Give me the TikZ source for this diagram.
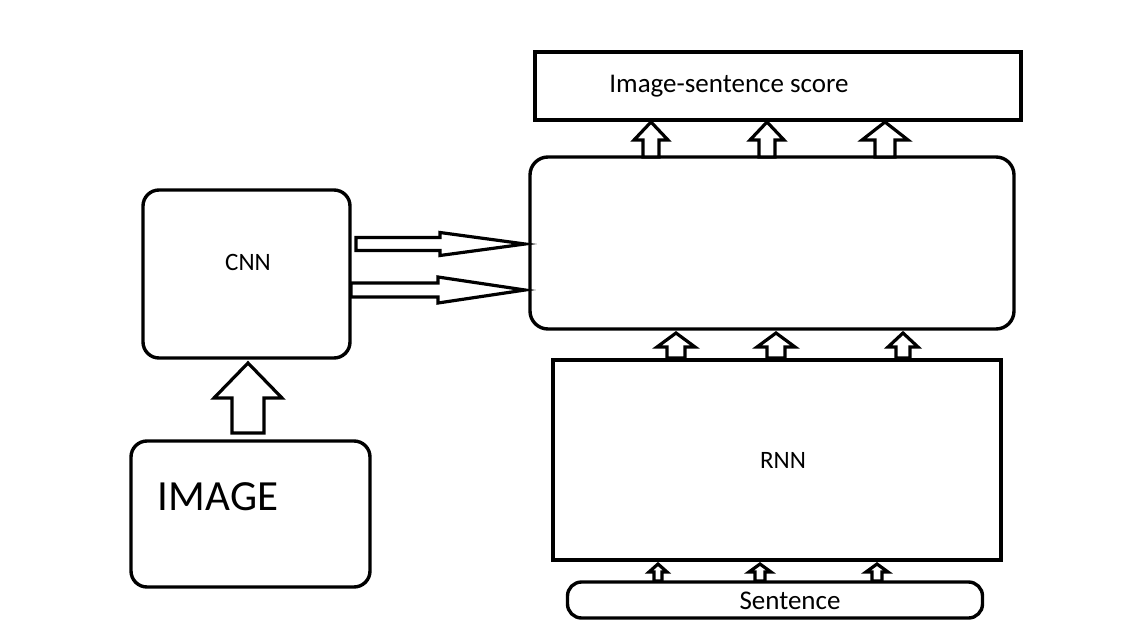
\documentclass[tikz,border=0pt]{standalone}
\usepackage{fontspec}
\setmainfont{Carlito}
\newcommand\blockup[6]{%
  \draw[blk] (#1-#6,#4) -- (#1-#6,#3) -- (#1-#5,#3) -- (#1,#2) -- (#1+#5,#3) -- (#1+#6,#3) -- (#1+#6,#4) -- cycle;}
\newcommand\blockright[6]{%
  \draw[blk] (#1,#4-#6) -- (#2,#4-#6) -- (#2,#4-#5) -- (#3,#4) -- (#2,#4+#5) -- (#2,#4+#6) -- (#1,#4+#6) -- cycle;}
\begin{document}
\begin{tikzpicture}[x=1pt,y=-1pt,
  box/.style={draw,line width=3.4pt,inner sep=0pt},
  blk/.style={draw,line width=3.2pt,line join=miter,fill=white},
  txt/.style={font=\fontsize{27}{32}\selectfont,inner sep=0pt},
  stxt/.style={font=\fontsize{25}{30}\selectfont,inner sep=0pt}]
\useasboundingbox (0,0) rectangle (1143,632);
\node[box,minimum width=486pt,minimum height=68pt] (score) at (778,86) {};
\node[txt] (scoretxt) at (729,86) {Image-sentence score};
\node[box,rounded corners=18pt,minimum width=484pt,minimum height=172pt] (mid) at (772,243) {};
\node[box,minimum width=448pt,minimum height=200pt] (rnn) at (777,460) {};
\node[stxt] (rnntxt) at (783,460) {RNN};
\node[box,rounded corners=16pt,minimum width=207pt,minimum height=168pt] (cnn) at (246.5,274) {};
\node[stxt] (cnntxt) at (248,262) {CNN};
\node[box,rounded corners=16pt,minimum width=239pt,minimum height=146pt] (image) at (250.5,514) {};
\node[txt,font=\fontsize{43}{50}\selectfont] (imagetxt) at (218,497) {IMAGE};
\node[box,rounded corners=14pt,minimum width=415pt,minimum height=36pt] (sent) at (775,600) {};
\node[txt] (senttxt) at (790,601) {Sentence};
% up arrows score
\blockup{651}{122}{140}{157}{17}{8}
\blockup{767}{122}{140}{157}{17}{8}
\blockup{885}{122}{140}{157}{23}{10}
% up arrows mid
\blockup{676}{333}{347}{358}{19}{9}
\blockup{776}{333}{347}{358}{19}{9}
\blockup{903}{333}{347}{358}{15}{7}
% sentence arrows
\blockup{658}{564}{572}{581}{9}{4}
\blockup{760}{564}{572}{581}{11}{5}
\blockup{877}{564}{572}{581}{11}{5}
% big arrow
\blockup{248}{363}{398}{433}{34}{16}
% horizontal arrows
\blockright{356}{440}{525}{244}{11.5}{6.5}
\blockright{351}{438}{525}{290}{13}{7}
\end{tikzpicture}
\end{document}
